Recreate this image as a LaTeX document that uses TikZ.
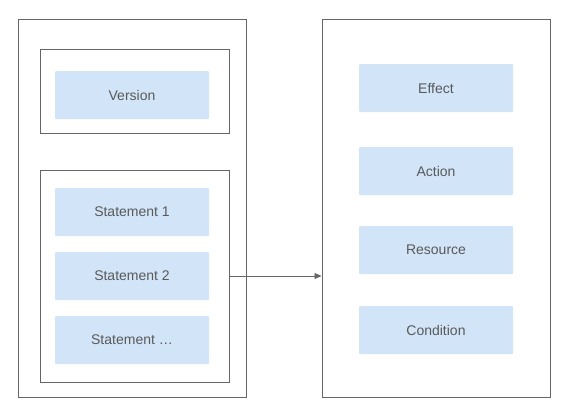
\documentclass[tikz,border=0pt]{standalone}
\usepackage{fontspec}
\setmainfont{Liberation Sans}
\usetikzlibrary{arrows.meta}
\definecolor{framegray}{HTML}{666666}
\definecolor{textgray}{HTML}{595959}
\definecolor{itemblue}{HTML}{D2E5F8}
\tikzset{
  frame/.style={draw=framegray, line width=0.9pt, inner sep=0pt},
  item/.style={fill=itemblue, rounded corners=1pt, minimum width=154pt, minimum height=48pt,
    inner sep=0pt, text depth=0pt, text=textgray, font=\fontsize{14}{16}\selectfont},
}
\begin{document}
\begin{tikzpicture}[x=1pt,y=-1pt]
          \useasboundingbox (0,0) rectangle (576,410);
          % left frame
          \node[frame, minimum width=228pt, minimum height=378pt] (policy) at (132,208) {};
          \node[frame, minimum width=189pt, minimum height=83.5pt] (ver) at (134.5,91.25) {};
          \node[frame, minimum width=189pt, minimum height=212pt] (stmts) at (134.5,276) {};
          \node[item] (version) at (132,95) {Version};
          \node[item] (stmt1) at (132,212) {Statement 1};
          \node[item] (stmt2) at (132,276) {Statement 2};
          \node[item] (stmtn) at (132,340) {Statement \dots};
          % right frame
          \node[frame, minimum width=228pt, minimum height=378pt] (stmt) at (436,208) {};
          \node[item] (effect) at (436,88) {Effect};
          \node[item] (action) at (436,171) {Action};
          \node[item] (resource) at (436,250) {Resource};
          \node[item] (condition) at (436,330) {Condition};
          % connector
          \draw[framegray, line width=0.8pt, -{Triangle[length=7pt,width=6pt]}] (stmts.east) -- (stmts.east -| stmt.west);
\end{tikzpicture}
\end{document}
